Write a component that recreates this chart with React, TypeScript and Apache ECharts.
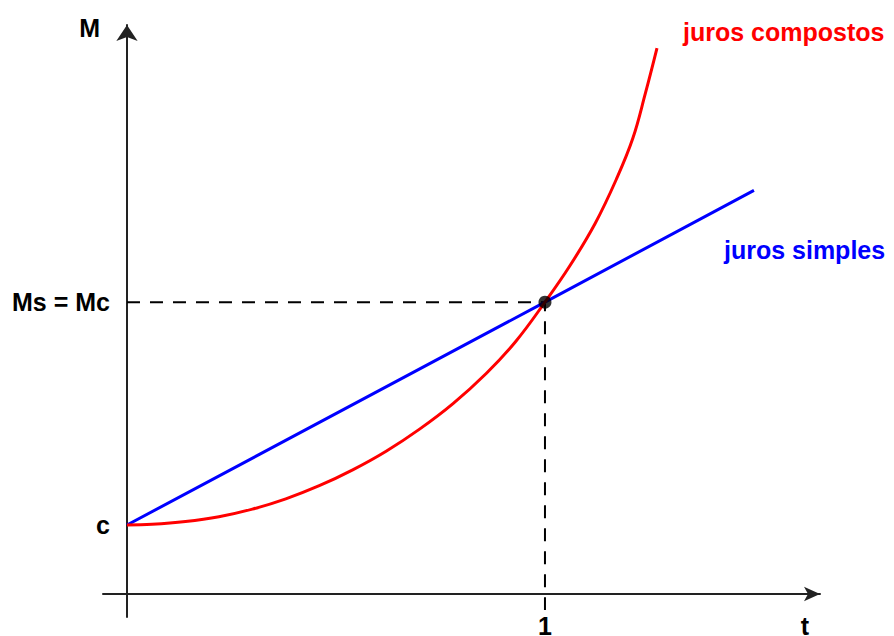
import React, { useEffect, useRef } from "react";
import * as echarts from "echarts";

// t axis (t = 1 is the crossing), M axis (c = 1)
const C_VALUE = 1;
const MC_VALUE = 4.23;
const T_ONE = 1;
const T_NAME_POS = 1.622;
const M_NAME_POS = 8.2;

const compostosT = [0, 0.06, 0.14, 0.22, 0.3, 0.38, 0.46, 0.54, 0.62, 0.7, 0.78, 0.86, 0.93, 1.0, 1.06, 1.12, 1.17, 1.21, 1.24, 1.268];
const compostosM = [1.0, 1.01, 1.05, 1.12, 1.23, 1.38, 1.57, 1.8, 2.07, 2.39, 2.76, 3.2, 3.66, 4.23, 4.76, 5.37, 6.0, 6.6, 7.25, 7.91];

const simplesT = [0, 1.0, 1.5];
const simplesM = [1.0, 4.23, 5.85];

const guideT = [0, 1, 1];
const guideM = [4.23, 4.23, -0.232];

const FONT = "'Liberation Sans', Arial, sans-serif";

export default function App() {
  const ref = useRef<HTMLDivElement>(null);
  useEffect(() => {
    if (!ref.current) return;
    const chart = echarts.init(ref.current, null, { renderer: "svg" });
    const zip = (a: number[], b: number[]) => a.map((v, i) => [v, b[i]]);
    chart.setOption({
      animation: false,
      grid: { left: 103, right: 74, top: 25, bottom: 19, containLabel: false, outerBoundsMode: "none" },
      xAxis: {
        type: "value",
        min: -0.0574,
        max: 1.658,
        splitLine: { show: false },
        axisTick: { show: false },
        axisLine: {
          onZero: true,
          symbol: ["none", "arrow"],
          symbolSize: [11, 16],
          lineStyle: { color: "#222", width: 2 },
        },
        axisLabel: {
          customValues: [T_ONE, T_NAME_POS],
          formatter: (v: number) => (Math.abs(v - T_ONE) < 1e-6 ? "1" : "t"),
          color: "#000",
          fontSize: 25,
          lineHeight: 18,
          fontWeight: "bold",
          fontFamily: FONT,
          margin: 0,
        },
      },
      yAxis: {
        type: "value",
        min: -0.333,
        max: 8.246,
        splitLine: { show: false },
        axisTick: { show: false },
        axisLine: {
          onZero: true,
          symbol: ["none", "arrow"],
          symbolSize: [16, 16],
          lineStyle: { color: "#222", width: 2 },
        },
        axisLabel: {
          customValues: [C_VALUE, MC_VALUE, M_NAME_POS],
          formatter: (v: number) =>
            Math.abs(v - C_VALUE) < 1e-6 ? "c" : Math.abs(v - MC_VALUE) < 1e-6 ? "Ms = Mc" : "{m|M}",
          color: "#000",
          fontSize: 25,
          fontWeight: "bold",
          fontFamily: FONT,
          margin: -7,
          rich: { m: { fontSize: 25, fontWeight: "bold", fontFamily: FONT, color: "#000", padding: [0, 10, 0, 0] } },
        },
      },
      series: [
        {
          type: "line",
          data: zip(guideT, guideM),
          symbol: "none",
          lineStyle: { color: "#000", width: 2, type: [13, 10] },
          z: 1,
        },
        {
          type: "line",
          data: zip(simplesT, simplesM),
          symbol: "none",
          lineStyle: { color: "#0000ff", width: 3 },
          endLabel: {
            show: true,
            formatter: "juros simples",
            color: "#0000ff",
            fontSize: 25,
            fontWeight: "bold",
            fontFamily: FONT,
            distance: 0,
            offset: [-30, 60],
          },
          z: 2,
        },
        {
          type: "line",
          data: zip(compostosT, compostosM),
          smooth: 0.4,
          symbol: "none",
          lineStyle: { color: "#ff0000", width: 3 },
          endLabel: {
            show: true,
            formatter: "juros compostos",
            color: "#ff0000",
            fontSize: 25,
            fontWeight: "bold",
            fontFamily: FONT,
            distance: 0,
            offset: [26, -16],
          },
          z: 3,
        },
        {
          type: "scatter",
          data: [[T_ONE, MC_VALUE]],
          symbol: "circle",
          symbolSize: 13,
          itemStyle: { color: "#000" },
          z: 5,
        },
      ],
    });
    return () => chart.dispose();
  }, []);
  return <div ref={ref} style={{ width: 894, height: 636, position: "absolute", left: 0, top: 0, background: "#fff" }} />;
}
